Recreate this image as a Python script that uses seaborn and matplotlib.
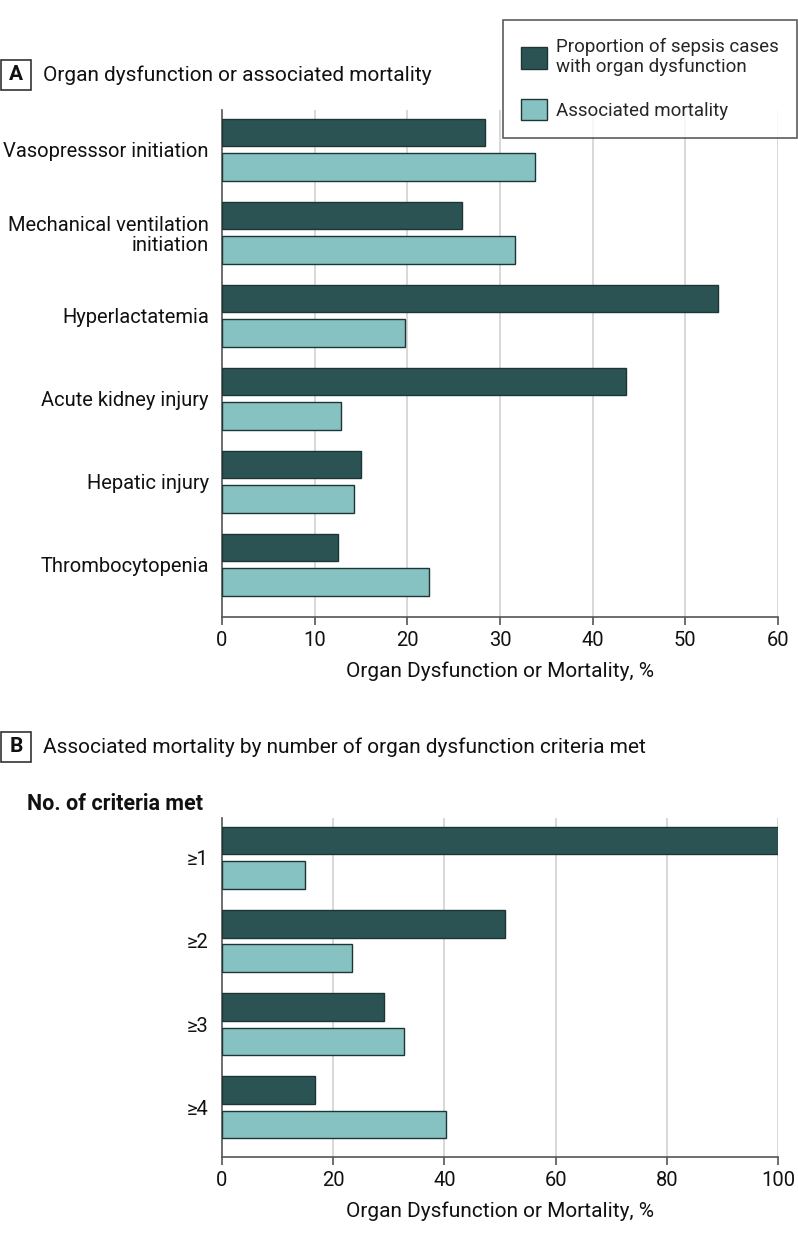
import matplotlib
matplotlib.use("Agg")
import matplotlib.pyplot as plt
import seaborn as sns
import pandas as pd
from matplotlib.patches import Patch, Rectangle

# ---- data ----
organ_categories = ["Vasopresssor initiation", "Mechanical ventilation\ninitiation",
                    "Hyperlactatemia", "Acute kidney injury", "Hepatic injury",
                    "Thrombocytopenia"]
organ_proportion = [28.4, 25.9, 53.5, 43.6, 15.0, 12.5]
organ_mortality = [33.8, 31.6, 19.8, 12.8, 14.2, 22.3]

criteria_categories = ["≥1", "≥2", "≥3", "≥4"]
criteria_proportion = [100.0, 50.9, 29.1, 16.8]
criteria_mortality = [15.0, 23.4, 32.7, 40.3]

series_names = ["Proportion of sepsis cases\nwith organ dysfunction", "Associated mortality"]
ticks_a = [0, 10, 20, 30, 40, 50, 60]
ticks_b = [0, 20, 40, 60, 80, 100]

dark = "#2b5353"
light = "#86c2c1"
edge = "#1e3535"
FS_TICK = 14.5
FS_LAB = 15
FS_TITLE = 15
FS_LEG = 13.5

sns.set_theme(style="white")
plt.rcParams["font.family"] = ["Roboto", "DejaVu Sans"]
plt.rcParams["font.size"] = FS_TICK

def long_df(cats, a, b):
    rows = []
    for c, v in zip(cats, a):
        rows.append({"cat": c, "series": series_names[0], "value": v})
    for c, v in zip(cats, b):
        rows.append({"cat": c, "series": series_names[1], "value": v})
    return pd.DataFrame(rows)

fig = plt.figure(figsize=(7.98, 12.42), dpi=100)
W, H = 798, 1242

def make_ax(top_px, bottom_px):
    return fig.add_axes([222 / W, 1 - bottom_px / H, 556 / W, (bottom_px - top_px) / H])

def style_ax(ax, df, ticks, ylim, cats):
    sns.barplot(data=df, y="cat", x="value", hue="series", hue_order=series_names,
                order=cats, palette=[dark, light], saturation=1, orient="h",
                width=0.83, gap=0.2, edgecolor=edge, linewidth=1.0, legend=False,
                ax=ax, zorder=3)
    ax.set_xlim(ticks[0], ticks[-1])
    ax.set_ylim(*ylim)
    ax.set_xticks(ticks)
    ax.set_xticklabels([str(t) for t in ticks], fontsize=FS_TICK, color="#111111")
    for t in ticks[1:]:
        ax.axvline(t, color="#d6d6d6", lw=1.3, zorder=1)
    for s in ["top", "right"]:
        ax.spines[s].set_visible(False)
    for s in ["left", "bottom"]:
        ax.spines[s].set_color("#555555")
        ax.spines[s].set_linewidth(1.2)
    ax.tick_params(axis="x", bottom=True, length=6, width=1.2, color="#555555", pad=4)
    ax.tick_params(axis="y", left=False, pad=3.5)
    ax.set_ylabel("")
    ax.set_xlabel("Organ Dysfunction or Mortality, %", fontsize=FS_LAB, labelpad=8,
                  color="#111111")
    for lbl in ax.get_yticklabels():
        lbl.set_fontsize(FS_TICK)
        lbl.set_multialignment("right")
        lbl.set_color("#111111")
        lbl.set_linespacing(1.1)

# Panel A
axA = make_ax(110, 617)
style_ax(axA, long_df(organ_categories, organ_proportion, organ_mortality),
         ticks_a, (5.63, -0.48), organ_categories)

# Panel B
axB = make_ax(818, 1157)
style_ax(axB, long_df(criteria_categories, criteria_proportion, criteria_mortality),
         ticks_b, (3.6, -0.48), criteria_categories)

# Panel labels
def panel_label(letter, text, y_px):
    bx = Rectangle((1 / W, 1 - (y_px + 15) / H), 30 / W, 30 / H, transform=fig.transFigure,
                   fill=False, edgecolor="#333333", lw=1.2)
    fig.add_artist(bx)
    fig.text(16 / W, 1 - y_px / H, letter, ha="center", va="center", fontsize=FS_TITLE,
             fontweight="bold", color="#111111")
    fig.text(43 / W, 1 - y_px / H, text, ha="left", va="center", fontsize=FS_TITLE,
             color="#111111")

panel_label("A", "Organ dysfunction or associated mortality", 75)
panel_label("B", "Associated mortality by number of organ dysfunction criteria met", 747)
fig.text(27 / W, 1 - 804 / H, "No. of criteria met", ha="left", va="center", fontsize=15.5,
         fontweight="bold", color="#111111")

# Legend
handles = [Patch(facecolor=dark, edgecolor=edge, lw=1.0),
           Patch(facecolor=light, edgecolor=edge, lw=1.0)]
leg = fig.legend(handles, series_names, loc="upper right",
                 bbox_to_anchor=(797 / W, 1 - 20 / H), borderaxespad=0,
                 frameon=True, fancybox=False,
                 fontsize=FS_LEG, handlelength=1.4, handleheight=1.4, labelspacing=1.2,
                 borderpad=0.95, handletextpad=0.5)
leg.get_frame().set_edgecolor("#333333")
leg.get_frame().set_linewidth(1.2)
for t in leg.get_texts():
    t.set_linespacing(1.15)

fig.savefig("out.png", dpi=100)
